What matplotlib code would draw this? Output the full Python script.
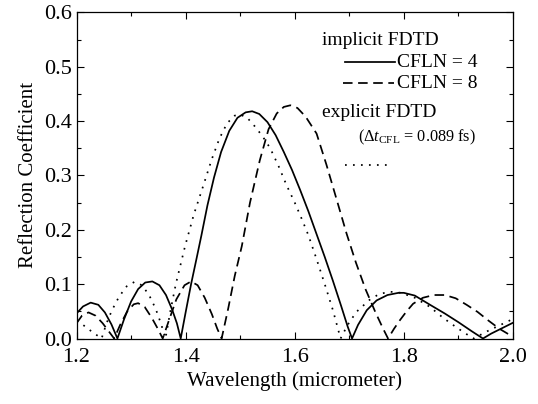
import matplotlib
matplotlib.use("Agg")
import matplotlib.pyplot as plt
from matplotlib.ticker import MultipleLocator, FormatStrFormatter

plt.rcParams['font.family'] = ['Liberation Serif', 'DejaVu Serif']
plt.rcParams['mathtext.fontset'] = 'custom'
plt.rcParams['mathtext.rm'] = 'Liberation Serif'
plt.rcParams['mathtext.it'] = 'Liberation Serif:italic'

# implicit FDTD, CFLN = 4 (solid)
x_cfln4 = [1.200, 1.212, 1.226, 1.240, 1.252, 1.264, 1.275, 1.287, 1.300, 1.313,
           1.326, 1.339, 1.352, 1.364, 1.375, 1.384, 1.391, 1.400, 1.410, 1.420,
           1.429, 1.440, 1.452, 1.465, 1.480, 1.495, 1.510, 1.522, 1.535, 1.550,
           1.565, 1.580, 1.595, 1.610, 1.625, 1.640, 1.655, 1.670, 1.685, 1.697,
           1.705, 1.716, 1.732, 1.750, 1.770, 1.790, 1.800, 1.820, 1.848, 1.875,
           1.900, 1.925, 1.945, 1.960, 1.980, 2.000]
y_cfln4 = [0.046, 0.059, 0.066, 0.062, 0.048, 0.026, 0.000, 0.035, 0.068, 0.091,
           0.103, 0.105, 0.098, 0.080, 0.054, 0.028, 0.000, 0.048, 0.100, 0.147,
           0.190, 0.245, 0.296, 0.343, 0.382, 0.406, 0.416, 0.418, 0.413, 0.398,
           0.374, 0.343, 0.310, 0.273, 0.234, 0.192, 0.150, 0.106, 0.060, 0.022,
           0.000, 0.025, 0.052, 0.070, 0.080, 0.084, 0.084, 0.079, 0.062, 0.046,
           0.030, 0.013, 0.000, 0.009, 0.019, 0.029]

# implicit FDTD, CFLN = 8 (dashed)
x_cfln8 = [1.200, 1.210, 1.222, 1.235, 1.248, 1.260, 1.269, 1.280, 1.293, 1.305,
           1.313, 1.325, 1.338, 1.349, 1.358, 1.370, 1.383, 1.398, 1.410, 1.422,
           1.435, 1.448, 1.458, 1.466, 1.478, 1.490, 1.503, 1.518, 1.536, 1.552,
           1.567, 1.580, 1.592, 1.605, 1.620, 1.640, 1.658, 1.677, 1.695, 1.712,
           1.730, 1.748, 1.762, 1.771, 1.782, 1.793, 1.805, 1.817, 1.835, 1.855,
           1.875, 1.895, 1.915, 1.935, 1.955, 1.975, 1.990, 2.000]
y_cfln8 = [0.028, 0.042, 0.048, 0.042, 0.028, 0.012, 0.000, 0.025, 0.050, 0.063,
           0.065, 0.058, 0.038, 0.018, 0.000, 0.035, 0.072, 0.098, 0.105, 0.098,
           0.075, 0.045, 0.018, 0.000, 0.055, 0.115, 0.170, 0.250, 0.328, 0.385,
           0.414, 0.426, 0.429, 0.424, 0.408, 0.377, 0.320, 0.255, 0.193, 0.140,
           0.090, 0.048, 0.018, 0.000, 0.018, 0.034, 0.050, 0.064, 0.075, 0.080,
           0.080, 0.074, 0.062, 0.049, 0.033, 0.018, 0.009, 0.004]

# explicit FDTD (dotted)
x_explicit = [1.200, 1.212, 1.225, 1.236, 1.246, 1.255, 1.265, 1.278, 1.292, 1.306,
              1.320, 1.333, 1.345, 1.355, 1.363, 1.372, 1.382, 1.399, 1.415, 1.432,
              1.448, 1.462, 1.476, 1.490, 1.500, 1.513, 1.527, 1.541, 1.555, 1.570,
              1.585, 1.600, 1.612, 1.625, 1.640, 1.655, 1.670, 1.684, 1.697, 1.713,
              1.737, 1.755, 1.775, 1.795, 1.820, 1.848, 1.872, 1.897, 1.915, 1.928,
              1.950, 1.975, 2.000]
y_explicit = [0.032, 0.025, 0.015, 0.007, 0.000, 0.028, 0.052, 0.077, 0.096, 0.104,
              0.098, 0.080, 0.055, 0.027, 0.000, 0.050, 0.100, 0.170, 0.228, 0.280,
              0.330, 0.368, 0.396, 0.410, 0.412, 0.406, 0.390, 0.372, 0.350, 0.318,
              0.282, 0.250, 0.222, 0.190, 0.146, 0.100, 0.052, 0.000, 0.025, 0.049,
              0.071, 0.082, 0.086, 0.084, 0.075, 0.058, 0.038, 0.020, 0.008, 0.000,
              0.012, 0.024, 0.036]

x_ticks = [1.2, 1.4, 1.6, 1.8, 2.0]
y_ticks = [0.0, 0.1, 0.2, 0.3, 0.4, 0.5, 0.6]

lw = 1.25
DASH = (5.5, 3.2)
DOT = (1.0, 3.6)

fig = plt.figure(figsize=(5.38, 4.04), dpi=100)
ax = fig.add_axes([0.1422, 0.1621, 0.8113, 0.8074])

ax.plot(x_cfln4, y_cfln4, color='black', lw=lw, ls='-')
ax.plot(x_cfln8, y_cfln8, color='black', lw=lw, ls=(0, DASH))
ax.plot(x_explicit, y_explicit, color='black', lw=lw, ls=(0, DOT))

ax.set_xlim(1.2, 2.0)
ax.set_ylim(0.0, 0.6)
ax.set_xticks(x_ticks)
ax.set_yticks(y_ticks)
ax.xaxis.set_minor_locator(MultipleLocator(0.1))
ax.yaxis.set_minor_locator(MultipleLocator(0.05))
ax.xaxis.set_major_formatter(FormatStrFormatter('%.1f'))
ax.yaxis.set_major_formatter(FormatStrFormatter('%.1f'))
ax.tick_params(which='both', direction='in', top=True, right=True, width=0.8)
ax.tick_params(which='major', length=5, labelsize=16)
ax.tick_params(axis='x', which='major', pad=7)
ax.tick_params(axis='y', which='major', pad=3)
ax.tick_params(which='minor', length=3)
for s in ax.spines.values():
    s.set_linewidth(0.9)

ax.set_xlabel('Wavelength (micrometer)', fontsize=15, labelpad=3)
ax.set_ylabel('Reflection Coefficient', fontsize=15, labelpad=5)

# legend-like annotation
tr = ax.transAxes
ax.text(0.562, 0.900, 'implicit FDTD', transform=tr, fontsize=14, va='baseline', ha='left')
ax.plot([0.615, 0.729], [0.849, 0.849], transform=tr, color='black', lw=lw, ls='-')
ax.text(0.734, 0.833, 'CFLN = 4', transform=tr, fontsize=14, va='baseline', ha='left')
ax.plot([0.611, 0.727], [0.782, 0.782], transform=tr, color='black', lw=lw, ls=(0, DASH))
ax.text(0.734, 0.767, 'CFLN = 8', transform=tr, fontsize=14, va='baseline', ha='left')
ax.text(0.562, 0.680, 'explicit FDTD', transform=tr, fontsize=14, va='baseline', ha='left')
ax.text(0.645, 0.603, r'($\Delta t_{\mathrm{CFL}}$ = 0.089 fs)', transform=tr, fontsize=11.7,
        va='baseline', ha='left')
ax.plot([0.615, 0.718], [0.532, 0.532], transform=tr, color='black', lw=lw, ls=(0, DOT))

fig.savefig('out.png', dpi=100)
